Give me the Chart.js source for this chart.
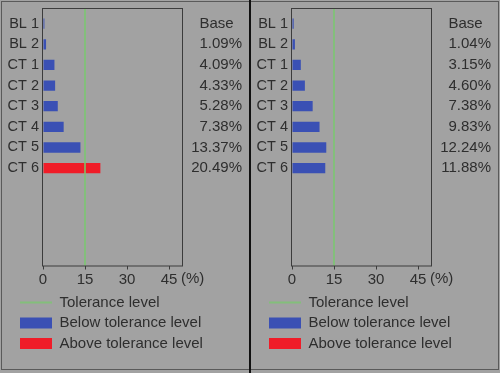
<!DOCTYPE html>
<html>
<head>
<meta charset="utf-8">
<script src="https://cdn.jsdelivr.net/npm/chart.js@4.4.1/dist/chart.umd.min.js"></script>
<style>
    body { margin: 0; background: #a2a2a2; }
    #wrap { position: relative; width: 500px; height: 373px; background: #a2a2a2; overflow: hidden; }
    #frame { position: absolute; left: 1px; top: 1px; width: 496px; height: 367px; border: 1px solid #5a5a5a; }
    #divider { position: absolute; left: 249px; top: 0; width: 2px; height: 373px; background: #111; }
    canvas { position: absolute; top: 0; }
    #leftChart { left: 0; }
    #rightChart { left: 249px; }
</style>
</head>
<body>
<div id="wrap">
    <div id="frame"></div>
    <canvas id="leftChart" width="249" height="373"></canvas>
    <canvas id="rightChart" width="249" height="373"></canvas>
    <div id="divider"></div>
</div>
<script>
const categories = ['BL 1', 'BL 2', 'CT 1', 'CT 2', 'CT 3', 'CT 4', 'CT 5', 'CT 6'];
const leftValues = [0.5, 1.09, 4.09, 4.33, 5.28, 7.38, 13.37, 20.49];
const rightValues = [0.6, 1.04, 3.15, 4.60, 7.38, 9.83, 12.24, 11.88];
const leftBase = ['Base', '1.09%', '4.09%', '4.33%', '5.28%', '7.38%', '13.37%', '20.49%'];
const rightBase = ['Base', '1.04%', '3.15%', '4.60%', '7.38%', '9.83%', '12.24%', '11.88%'];
const xTicks = [0, 15, 30, 45];
const tolerance = 15;

const BLUE = '#3a50b4';
const RED = '#f01c28';
const GREEN = 'rgba(120, 200, 110, 0.75)';
const TEXT = '#2e2e2e';
const FONT = 'Liberation Sans, Arial, sans-serif';

// tolerance line, plot frame and the (%) unit; also nudges the legend right
const extrasPlugin = {
    id: 'extras',
    afterLayout(chart) {
        chart.legend.left = 14.5;
    },
    afterDatasetsDraw(chart) {
        const { ctx, chartArea: a, scales: { x } } = chart;
        ctx.save();
        const tx = x.getPixelForValue(tolerance);
        ctx.strokeStyle = GREEN;
        ctx.lineWidth = 2;
        ctx.beginPath();
        ctx.moveTo(tx, a.top);
        ctx.lineTo(tx, a.bottom);
        ctx.stroke();

        ctx.strokeStyle = '#3c3c3c';
        ctx.lineWidth = 1;
        ctx.strokeRect(a.left - 0.5, a.top + 0.5, a.right - a.left, a.bottom - a.top);

        ctx.fillStyle = TEXT;
        ctx.font = '15px ' + FONT;
        ctx.textBaseline = 'middle';
        ctx.textAlign = 'left';
        ctx.fillText('(%)', x.getPixelForValue(45) + 12, a.bottom + 13);
        ctx.restore();
    }
};

function makeChart(canvasId, values, base) {
    const ctx = document.getElementById(canvasId).getContext('2d');
    const rows = {
        type: 'linear',
        reverse: true,
        offset: false,
        min: -0.76,
        max: 11.72,
        afterBuildTicks: s => { s.ticks = categories.map((c, i) => ({ value: i })); },
        grid: { display: false, drawTicks: false },
        border: { display: false }
    };
    return new Chart(ctx, {
        type: 'bar',
        data: {
            datasets: [{
                data: values.map((v, i) => ({ x: v, y: i })),
                backgroundColor: values.map(v => v > tolerance ? RED : BLUE),
                borderWidth: 0,
                categoryPercentage: 1,
                barPercentage: 0.5
            }]
        },
        options: {
            indexAxis: 'y',
            responsive: false,
            animation: false,
            layout: { padding: { left: 0, right: 7, top: 8, bottom: 12 } },
            scales: {
                x: {
                    type: 'linear',
                    min: 0,
                    max: 50,
                    afterBuildTicks: s => { s.ticks = xTicks.map(v => ({ value: v })); },
                    afterFit: s => { s.height = 24; },
                    grid: { drawOnChartArea: false, tickLength: 4, color: '#3c3c3c', tickWidth: 1 },
                    border: { display: false },
                    ticks: { color: TEXT, font: { family: FONT, size: 15 }, padding: 1, maxRotation: 0 }
                },
                y: {
                    ...rows,
                    position: 'left',
                    afterFit: s => { s.width = 43; s.paddingTop = 0; s.paddingBottom = 0; },
                    ticks: {
                        color: TEXT,
                        font: { family: FONT, size: 14.5 },
                        padding: 4,
                        callback: v => categories[v]
                    }
                },
                base: {
                    ...rows,
                    position: 'right',
                    afterFit: s => { s.width = 59; s.paddingTop = 0; s.paddingBottom = 0; },
                    ticks: {
                        color: TEXT,
                        font: { family: FONT, size: 15 },
                        padding: 8,
                        crossAlign: 'far',
                        callback: v => (v === 0 ? base[v] + '  ' : base[v])
                    }
                }
            },
            plugins: {
                tooltip: { enabled: false },
                legend: {
                    position: 'bottom',
                    align: 'start',
                    labels: {
                        color: TEXT,
                        font: { family: FONT, size: 15 },
                        usePointStyle: true,
                        pointStyleWidth: 32,
                        boxHeight: 11,
                        padding: 5.5,
                        generateLabels: () => [
                            { text: 'Tolerance level', pointStyle: 'line', strokeStyle: GREEN, fillStyle: GREEN, lineWidth: 2, fontColor: TEXT },
                            { text: 'Below tolerance level', pointStyle: 'rect', fillStyle: BLUE, strokeStyle: BLUE, lineWidth: 0, fontColor: TEXT },
                            { text: 'Above tolerance level', pointStyle: 'rect', fillStyle: RED, strokeStyle: RED, lineWidth: 0, fontColor: TEXT }
                        ]
                    }
                }
            }
        },
        plugins: [extrasPlugin]
    });
}

makeChart('leftChart', leftValues, leftBase);
makeChart('rightChart', rightValues, rightBase);
</script>
</body>
</html>
